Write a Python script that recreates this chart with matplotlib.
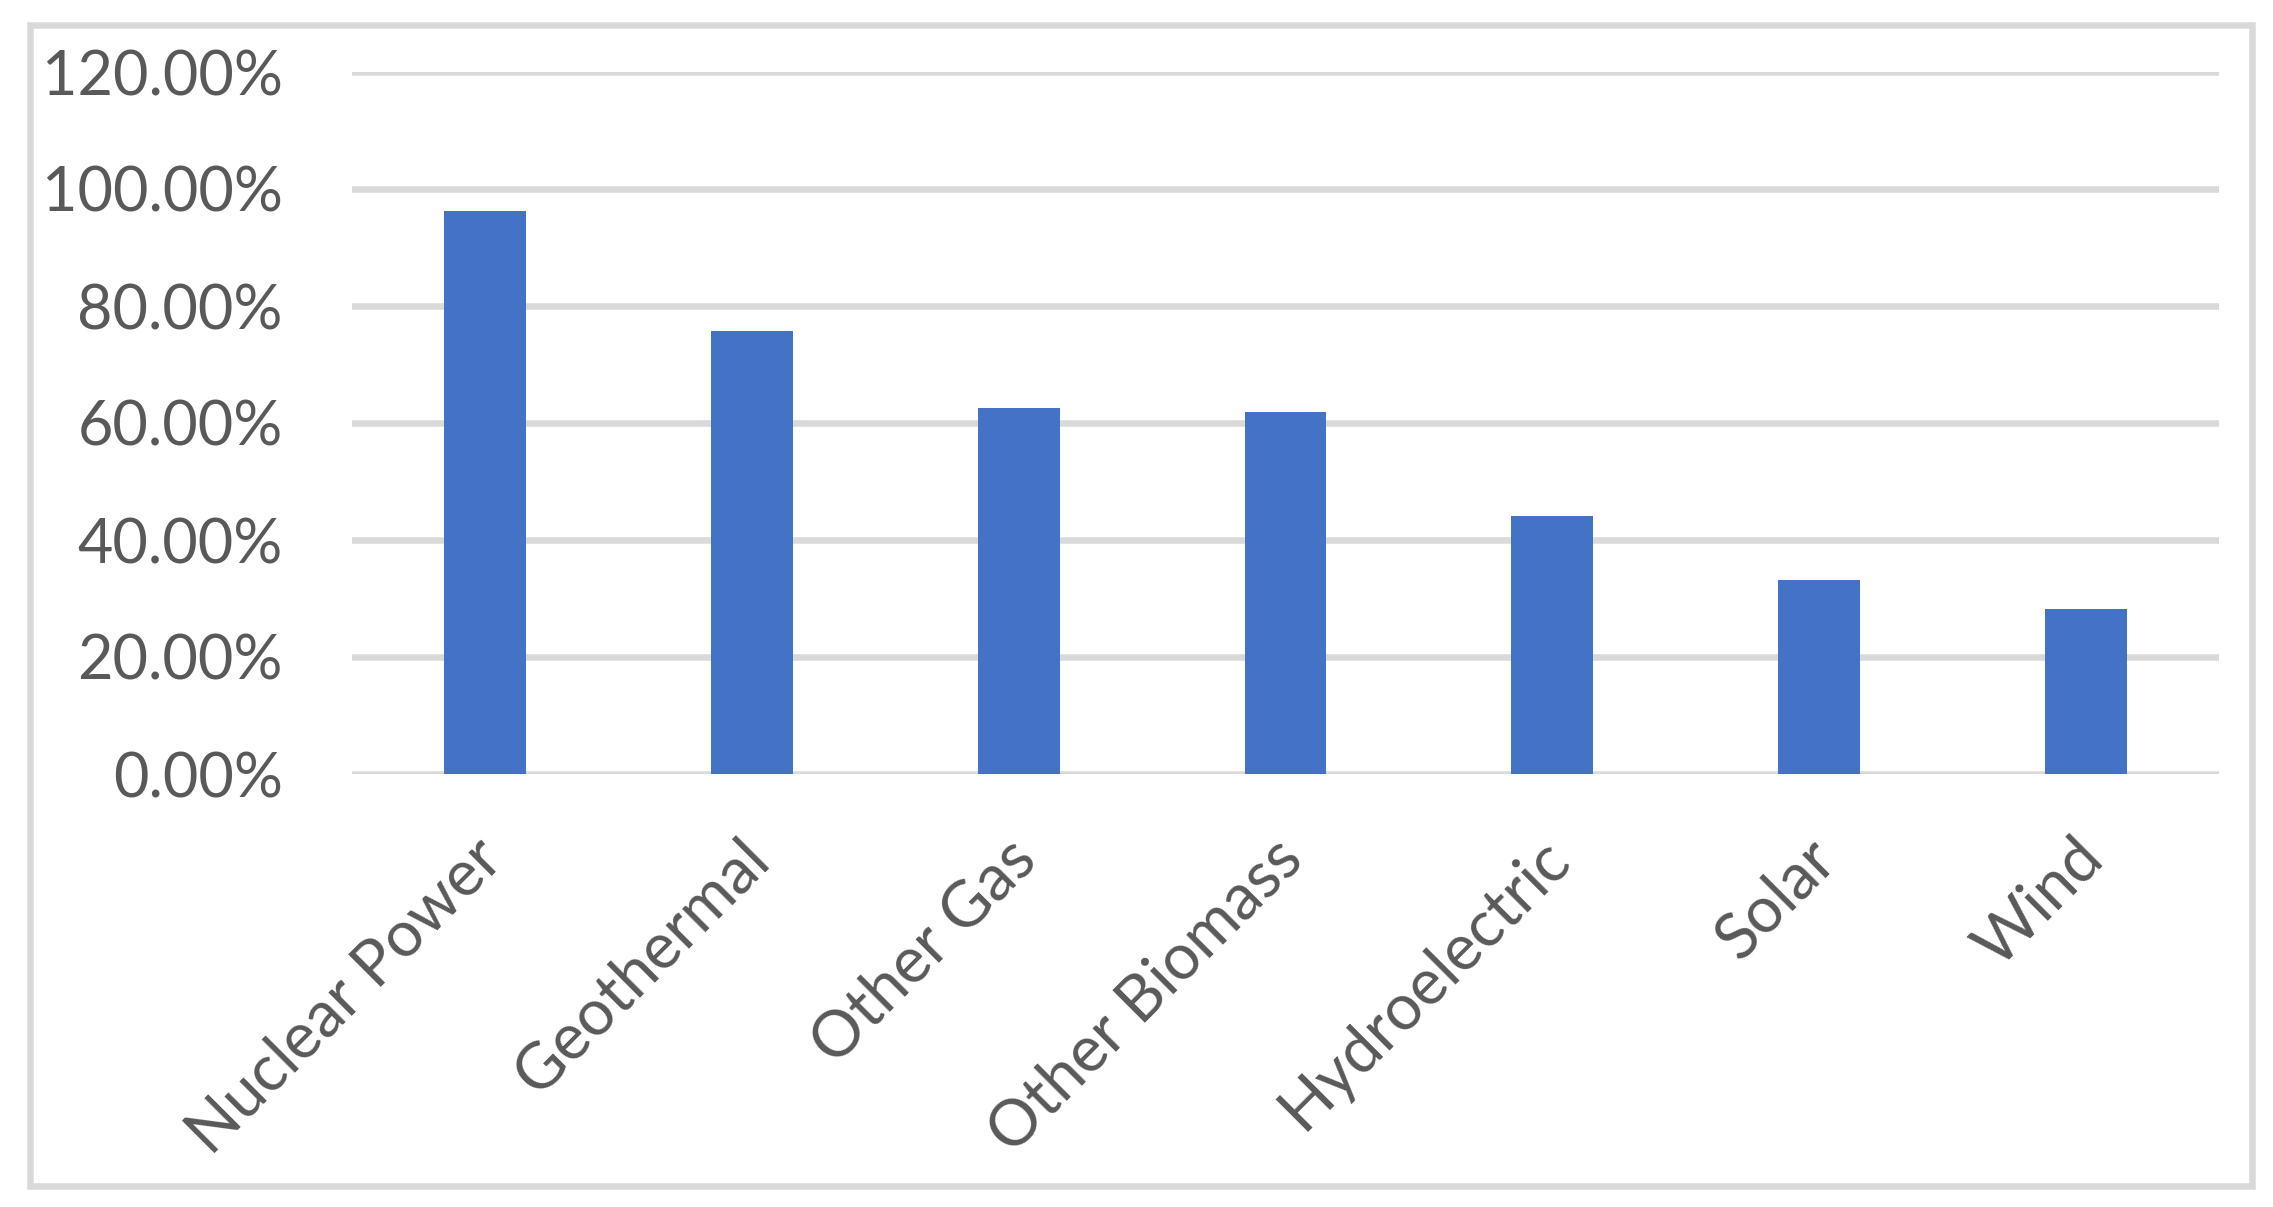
import matplotlib
matplotlib.use("Agg")
import matplotlib.pyplot as plt
from matplotlib.patches import Rectangle
from matplotlib.ticker import FuncFormatter, MultipleLocator
from matplotlib.transforms import ScaledTranslation

categories = ["Nuclear Power", "Geothermal", "Other Gas", "Other Biomass",
              "Hydroelectric", "Solar", "Wind"]
values = [96.2, 75.8, 62.5, 61.9, 44.1, 33.2, 28.2]

W, H, DPI = 2273, 1207, 100
fig = plt.figure(figsize=(W / DPI, H / DPI), dpi=DPI)
fig.patch.set_facecolor("white")

def px(v):
    return v * 72.0 / DPI

left, right = 352 / W, 2219 / W
bottom, top = (H - 774) / H, (H - 72) / H
ax = fig.add_axes([left, bottom, right - left, top - bottom])

text_color = "#595959"
grid_color = "#D9D9D9"
bar_color = "#4472C4"
font = "Lato"

x = list(range(len(categories)))
ax.bar(x, values, width=0.307, color=bar_color, zorder=3)

ax.set_xlim(-0.5, len(categories) - 0.5)
ax.set_ylim(0, 120)
ax.yaxis.set_major_locator(MultipleLocator(20))
ax.yaxis.set_major_formatter(FuncFormatter(lambda v, p: f"{v:.2f}%"))
ax.grid(axis="y", color=grid_color, linewidth=px(6.5), zorder=0)
ax.set_axisbelow(True)
for s in ax.spines.values():
    s.set_visible(False)

ax.set_xticks(x)
ax.set_xticklabels(categories)
ax.tick_params(axis="both", length=0, labelcolor=text_color)
ax.tick_params(axis="y", pad=px(69), labelsize=44)
ax.tick_params(axis="x", pad=px(55), labelsize=46)
for lab in ax.get_yticklabels():
    lab.set_fontfamily(font)
shift = ScaledTranslation(-13 / DPI, 0, fig.dpi_scale_trans)
for lab in ax.get_xticklabels():
    lab.set_fontfamily(font)
    lab.set_rotation(45)
    lab.set_ha("right")
    lab.set_va("top")
    lab.set_rotation_mode("anchor")
    lab.set_transform(lab.get_transform() + shift)

# outer chart border
fig.patches.append(Rectangle((30 / W, (H - 1186) / H), (2252 - 30) / W,
                             (1186 - 25) / H, transform=fig.transFigure,
                             fill=False, edgecolor=grid_color,
                             linewidth=px(6.5)))

fig.savefig("out.png", dpi=DPI, facecolor="white")
